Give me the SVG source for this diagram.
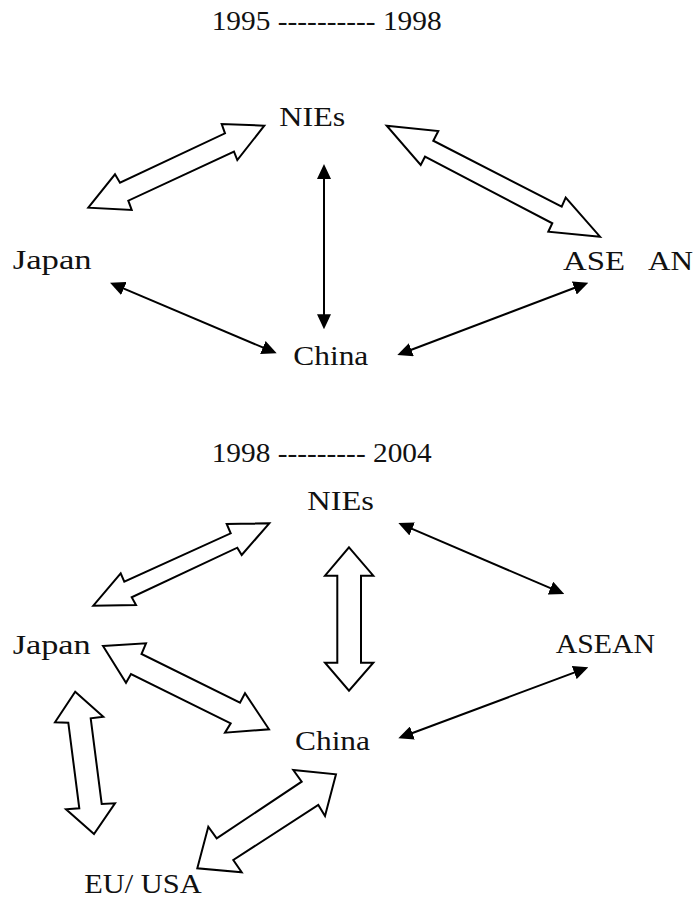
<svg xmlns="http://www.w3.org/2000/svg" width="698" height="900" viewBox="0 0 698 900">
<style>
  text { font-family: "Liberation Serif", "Times New Roman", serif; font-size: 28px; fill: #111; }
  .thin { stroke: #000; stroke-width: 2; fill: none; marker-start: url(#head); marker-end: url(#head); }
  .hollow { fill: #fff; stroke: #000; stroke-width: 2; stroke-linejoin: miter; }
</style>
<defs>
  <marker id="head" viewBox="0 0 15 14" refX="7" refY="7" markerWidth="15" markerHeight="14" markerUnits="userSpaceOnUse" orient="auto-start-reverse">
    <path d="M0,0 L15,7 L0,14 z" fill="#000"/>
  </marker>
</defs>
<rect width="698" height="900" fill="#fff"/>

<text id="header-1" x="211.7" y="30" textLength="230" lengthAdjust="spacingAndGlyphs">1995 ---------- 1998</text>
<text id="header-2" x="211.7" y="461.7" textLength="220" lengthAdjust="spacingAndGlyphs">1998 --------- 2004</text>

<g id="connectors">
  <!-- top diagram -->
  <polygon class="hollow" points="264.3,125.7 221.7,124 225,133.3 120,182.7 115,174.3 88.3,207.7 131.7,210 128.3,200.7 234,151.7 237.3,160"/>
  <polygon class="hollow" points="386.7,125.7 438.3,131 433.3,140.7 561.7,206.7 565.7,197.7 600,236.7 548.3,231.7 552.3,223.3 425,156.7 420.7,165"/>
  <line class="thin" x1="324" y1="172" x2="324" y2="321.3"/>
  <line class="thin" x1="117.4" y1="285.8" x2="269.3" y2="350.2"/>
  <line class="thin" x1="404.8" y1="352.2" x2="580.8" y2="285.5"/>
  <!-- bottom diagram -->
  <polygon class="hollow" points="269.3,523.3 226.7,524 230.7,533.3 124.3,581.7 120.7,573.3 93.3,605.7 136,605 131.7,597.3 237.3,547.7 241.7,555"/>
  <polygon class="hollow" points="349,547.3 373.3,575.7 361,575.7 361,662.7 373.3,662.7 349,690.7 325,662.7 337.3,662.7 337.3,575.7 325,575.7"/>
  <polygon class="hollow" points="103,646 146,643.3 141.5,654 240,702.7 245,693.3 269,729.3 225,732.7 230.7,723.3 131,674 126,682.7"/>
  <polygon class="hollow" points="75.2,691.7 103.3,716.7 90.7,718.3 101.7,804 115,803.3 94,834 66,809.3 79.3,808.3 68.3,722.7 55,722.2"/>
  <polygon class="hollow" points="336,774.3 325,816 318.3,805 233.3,860 241.7,872.3 197.3,868.3 208.3,826.7 216.7,838.3 301.7,781.7 293.3,770"/>
  <line class="thin" x1="405.7" y1="526.2" x2="556.9" y2="590.9"/>
  <line class="thin" x1="580.8" y1="670.1" x2="405.8" y2="735.5"/>
</g>

<g id="node-nies-1"><text x="279.3" y="125.7" textLength="66" lengthAdjust="spacingAndGlyphs">NIEs</text></g>
<g id="node-japan-1"><text x="12.7" y="269.3" textLength="79" lengthAdjust="spacingAndGlyphs">Japan</text></g>
<g id="node-asean-1"><text x="563" y="270" textLength="62" lengthAdjust="spacingAndGlyphs">ASE</text><text x="648" y="270" textLength="45" lengthAdjust="spacingAndGlyphs">AN</text></g>
<g id="node-china-1"><text x="293.3" y="365" textLength="75" lengthAdjust="spacingAndGlyphs">China</text></g>

<g id="node-nies-2"><text x="307.3" y="510" textLength="66.7" lengthAdjust="spacingAndGlyphs">NIEs</text></g>
<g id="node-japan-2"><text x="12.7" y="654" textLength="78" lengthAdjust="spacingAndGlyphs">Japan</text></g>
<g id="node-asean-2"><text x="555.7" y="653.3" textLength="99.3" lengthAdjust="spacingAndGlyphs">ASEAN</text></g>
<g id="node-china-2"><text x="295" y="750" textLength="75" lengthAdjust="spacingAndGlyphs">China</text></g>
<g id="node-euusa"><text x="84.3" y="893" textLength="117.4" lengthAdjust="spacingAndGlyphs">EU/ USA</text></g>
</svg>
